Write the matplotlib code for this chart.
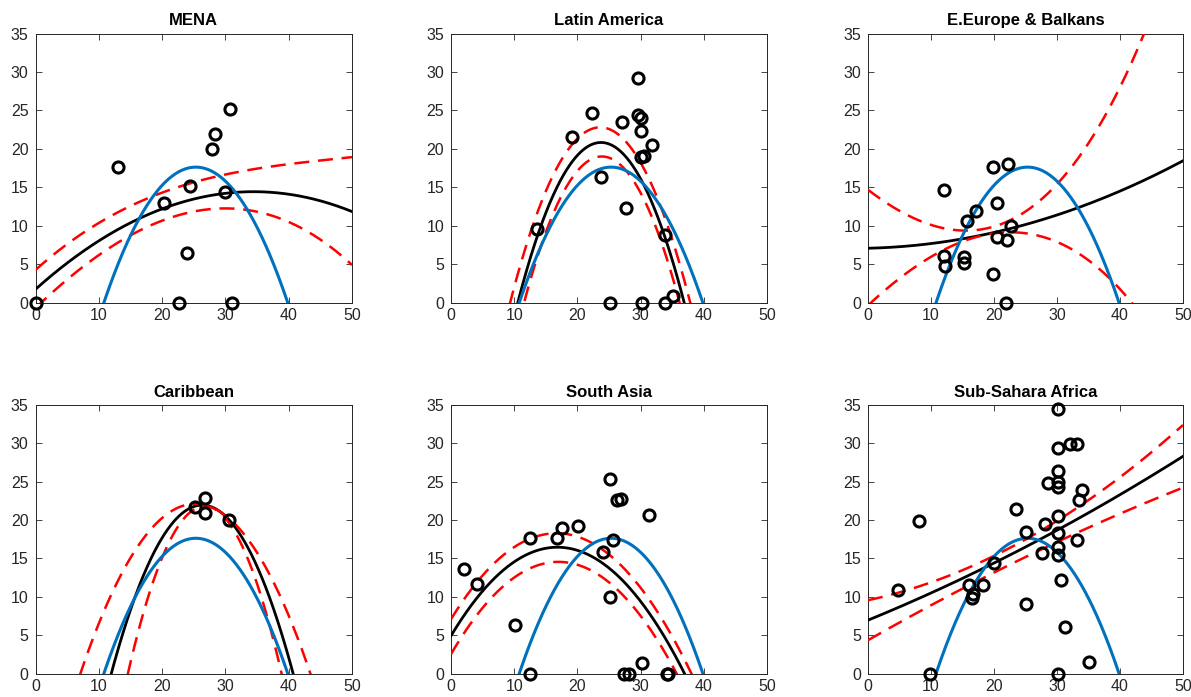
import numpy as np
import matplotlib
matplotlib.use("Agg")
import matplotlib.pyplot as plt
from numpy.polynomial import polynomial as P

plt.rcParams['font.family'] = ['Liberation Sans', 'DejaVu Sans']

titles = ["MENA", "Latin America", "E.Europe & Balkans",
          "Caribbean", "South Asia", "Sub-Sahara Africa"]

# ---- scatter data ----
mena_x = [0.0, 13.0, 20.3, 24.4, 23.95, 22.7, 28.3, 27.9, 30.7, 30.0, 31.0]
mena_y = [0.0, 17.7, 13.0, 15.2, 6.4, 0.0, 21.9, 20.0, 25.2, 14.4, 0.0]

latam_x = [13.6, 19.2, 22.3, 23.8, 27.1, 27.7, 29.6, 29.6, 30.0, 30.1, 31.8,
           30.5, 30.0, 33.9, 25.1, 30.2, 33.9, 35.1]
latam_y = [9.6, 21.5, 24.6, 16.4, 23.5, 12.3, 29.2, 24.4, 24.0, 22.3, 20.5,
           19.1, 18.9, 8.8, 0.0, 0.0, 0.0, 0.9]

eeur_x = [12.1, 12.1, 12.3, 15.3, 15.3, 15.7, 17.2, 19.9, 22.2, 20.5, 22.75,
          20.5, 22.0, 19.9, 21.85]
eeur_y = [14.6, 6.1, 4.8, 6.0, 5.2, 10.6, 11.9, 17.7, 18.0, 12.9, 10.0,
          8.6, 8.2, 3.7, 0.0]

carib_x = [25.2, 26.8, 26.8, 30.5]
carib_y = [21.75, 22.84, 20.9, 20.06]

sasia_x = [2.06, 4.07, 10.14, 12.5, 12.5, 16.7, 17.5, 20.06, 24.0, 25.1, 25.1,
           25.6, 26.3, 26.9, 31.4, 27.3, 28.1, 30.3, 34.2, 34.4]
sasia_y = [13.6, 11.72, 6.34, 17.6, 0.0, 17.6, 19.0, 19.2, 15.9, 25.3, 10.0,
           17.4, 22.6, 22.8, 20.7, 0.0, 0.0, 1.35, 0.0, 0.0]

ssa_x = [4.7, 8.04, 9.9, 16.1, 16.5, 16.7, 18.2, 20.0, 23.5, 25.1, 25.1, 27.6,
         28.15, 28.5, 30.1, 30.1, 30.1, 30.1, 30.1, 30.1, 30.1, 30.1, 30.1,
         30.7, 31.2, 30.1, 32.1, 33.2, 33.5, 34.0, 33.2, 35.0]
ssa_y = [10.94, 19.9, 0.0, 11.6, 9.9, 10.3, 11.55, 14.37, 21.5, 18.45, 9.03,
         15.68, 19.45, 24.88, 34.43, 29.44, 26.36, 24.97, 24.36, 20.5, 18.37,
         16.54, 15.46, 12.2, 6.12, 0.0, 29.87, 29.87, 22.58, 23.88, 17.37, 1.56]

# ---- curve polynomial coefficients [c0, c1, c2, (c3)] ----
blue_coef = [-35.963, 4.2323, -0.08356]

mena_fit = [1.74, 0.7368, -0.010692]
mena_up = [4.26, 0.738, -0.013697, 0.0000961]
mena_lo = [-0.7, 0.7933, -0.009666, -0.0000792]

latam_fit = [-46.80, 5.700, -0.1201]
latam_up = [-39.72, 5.297, -0.1122]
latam_lo = [-52.47, 5.990, -0.12549]

eeur_fit = [7.08, 0.019, 0.004168]
eeur_up = [14.68, -0.6281, 0.014889, 0.0002287]
eeur_lo = [-0.35, 0.7655, -0.011933, -0.0001471]

carib_fit = [-51.84, 5.604, -0.1064]
carib_up = [-20.65, 3.387, -0.06705]
carib_lo = [-83.99, 7.914, -0.148]

sasia_fit = [4.91, 1.3718, -0.04073]
sasia_up = [7.08, 1.3413, -0.04016]
sasia_lo = [2.52, 1.4154, -0.04163]

ssa_fit = [6.95, 0.336, 0.001823]
ssa_up = [9.55, 0.1771, 0.005593]
ssa_lo = [4.34, 0.4698, -0.00144]

xs_all = [mena_x, latam_x, eeur_x, carib_x, sasia_x, ssa_x]
ys_all = [mena_y, latam_y, eeur_y, carib_y, sasia_y, ssa_y]
fits = [mena_fit, latam_fit, eeur_fit, carib_fit, sasia_fit, ssa_fit]
ups = [mena_up, latam_up, eeur_up, carib_up, sasia_up, ssa_up]
los = [mena_lo, latam_lo, eeur_lo, carib_lo, sasia_lo, ssa_lo]

xticks = [0, 10, 20, 30, 40, 50]
yticks = [0, 5, 10, 15, 20, 25, 30, 35]

W, H = 1191, 697
fig = plt.figure(figsize=(W / 100, H / 100), dpi=100)
# axes boxes in pixels: left, right / top, bottom
col_px = [(35.5, 352.0), (451.0, 767.0), (868.0, 1183.0)]
row_px = [(33.5, 302.7), (405.0, 673.5)]

grid = np.linspace(0, 50, 801)
axcol = '#262626'
for i in range(6):
    r, c = divmod(i, 3)
    x0, x1 = col_px[c]
    yt, yb = row_px[r]
    ax = fig.add_axes([x0 / W, 1 - yb / H, (x1 - x0) / W, (yb - yt) / H])
    ax.plot(xs_all[i], ys_all[i], 'o', ms=8, mfc='none', mec='black',
            mew=2.2, clip_on=False, zorder=5)
    ax.plot(grid, P.polyval(grid, fits[i]), color='black', lw=2.0, zorder=3)
    ax.plot(grid, P.polyval(grid, ups[i]), color='red', lw=1.8,
            dashes=(6, 3.5), zorder=3)
    ax.plot(grid, P.polyval(grid, los[i]), color='red', lw=1.8,
            dashes=(6, 3.5), zorder=3)
    ax.plot(grid, P.polyval(grid, blue_coef), color='#0072BD', lw=2.2, zorder=4)
    ax.set_xlim(0, 50)
    ax.set_ylim(0, 35)
    ax.set_xticks(xticks)
    ax.set_yticks(yticks)
    ax.tick_params(direction='in', top=True, right=True, length=4, width=0.6,
                   labelsize=11.5, colors=axcol)
    ax.tick_params(axis='x', pad=4)
    ax.tick_params(axis='y', pad=5)
    for s in ax.spines.values():
        s.set_color(axcol)
        s.set_linewidth(0.7)
    ax.set_title(titles[i], fontsize=12, fontweight='bold', pad=6)

fig.savefig('out.png', dpi=100)
